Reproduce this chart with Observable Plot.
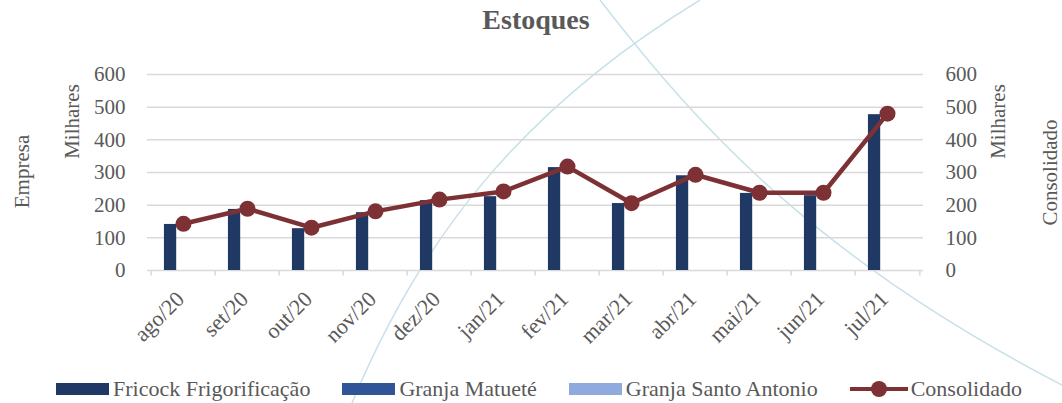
<!DOCTYPE html>
<html><head><meta charset="utf-8">
<script src="https://cdn.jsdelivr.net/npm/d3@7"></script>
<script src="https://cdn.jsdelivr.net/npm/@observablehq/plot@0.6"></script>
<style>
body{margin:0;background:#fff;font-family:"Liberation Serif","Times New Roman",serif;}
#wrap{position:relative;width:1062px;height:403px;overflow:hidden;}
#bg{position:absolute;left:0;top:0;}
#title{position:absolute;top:4px;left:0;width:1072px;text-align:center;font-weight:bold;font-size:28px;color:#595959;font-family:"Liberation Serif","Times New Roman",serif;}
#chart{position:absolute;left:0;top:50px;}
#legend{position:absolute;top:376px;left:0;width:1078px;display:flex;justify-content:center;align-items:center;font-size:22px;color:#595959;font-family:"Liberation Serif","Times New Roman",serif;}
.item{display:flex;align-items:center;margin-right:32px;}
.item:last-child{margin-right:0;}
.sw{width:53px;height:12px;margin-right:4px;}
.ln{position:relative;width:58px;height:16px;margin-right:3px;}
.ln:before{content:"";position:absolute;left:0;right:0;top:6px;height:4px;background:#7E3134;}
.ln:after{content:"";position:absolute;left:21px;top:0;width:16px;height:16px;border-radius:50%;background:#7E3134;}
#chart svg text{font-family:"Liberation Serif","Times New Roman",serif;}
</style></head>
<body>
<div id="wrap">
<svg id="bg" width="1062" height="403"><path d="M352,403 C420,240 520,110 700,0" fill="none" stroke="#c9e0ea" stroke-width="1.5"/><path d="M600,0 C700,130 820,260 1062,385" fill="none" stroke="#c9e0ea" stroke-width="1.5"/></svg>
<div id="title">Estoques</div>
<div id="chart"></div>
<div id="legend"></div>
</div>
<script>
const months = ["ago/20","set/20","out/20","nov/20","dez/20","jan/21","fev/21","mar/21","abr/21","mai/21","jun/21","jul/21"];
const fricock = [141,187,128,177,214,226,315,205,290,236,229,477];
const granjaMatuete = [0,0,0,0,0,0,0,0,0,0,0,0];
const granjaSantoAntonio = [0,0,0,0,0,0,0,0,0,0,0,0];
const consolidado = [143,189,131,181,217,242,318,206,293,238,238,480];
const yTicks = [0,100,200,300,400,500,600];
const seriesNames = ["Fricock Frigorificação","Granja Matueté","Granja Santo Antonio","Consolidado"];
const colors = ["#203864","#2F5597","#8FAADC","#7E3134"];

const data = months.map((m,i)=>({month:m,fricock:fricock[i],gm:granjaMatuete[i],gsa:granjaSantoAntonio[i],cons:consolidado[i]}));

const W=1062,H=320,ML=147,MR=139,MT=24,MB=100;
const bw=(W-ML-MR)/months.length;
const sub=bw*0.2;
const font={fontFamily:"Liberation Serif",fontSize:21,fill:"#595959",textAnchor:"middle"};

const chart = Plot.plot({
  width:W,height:H,marginLeft:ML,marginRight:MR,marginTop:MT,marginBottom:MB,
  style:{fontFamily:"Liberation Serif",fontSize:"21px",color:"#595959",background:"transparent",overflow:"visible"},
  x:{type:"band",domain:months,padding:0},
  y:{domain:[0,600]},
  marks:[
    Plot.ruleY(yTicks,{stroke:"#d9d9d9",strokeWidth:1.5}),
    Plot.ruleX(months,{x:d=>d,dx:-bw/2,y1:0,y2:-17,stroke:"#d9d9d9",strokeWidth:1.5}),
    Plot.ruleX([months[months.length-1]],{x:d=>d,dx:bw/2,y1:0,y2:-17,stroke:"#d9d9d9",strokeWidth:1.5}),
    Plot.barY(data,{x:"month",y:"fricock",fill:colors[0],insetLeft:sub,insetRight:bw-2*sub}),
    Plot.barY(data,{x:"month",y:"gm",fill:colors[1],insetLeft:2*sub,insetRight:bw-3*sub}),
    Plot.barY(data,{x:"month",y:"gsa",fill:colors[2],insetLeft:3*sub,insetRight:bw-4*sub}),
    Plot.line(data,{x:"month",y:"cons",stroke:colors[3],strokeWidth:4.5}),
    Plot.dot(data,{x:"month",y:"cons",fill:colors[3],r:8}),
    Plot.axisY({anchor:"left",ticks:yTicks,tickSize:0,tickPadding:22,label:null,fontSize:21}),
    Plot.axisY({anchor:"right",ticks:yTicks,tickSize:0,tickPadding:22,label:null,fontSize:21}),
    Plot.axisX({tickSize:0,tickPadding:25,tickRotate:-45,label:null,fontSize:22,dx:-3}),
    Plot.text(["Empresa"],{frameAnchor:"top-left",dx:14-ML,dy:121-MT,rotate:-90,...font,text:d=>d}),
    Plot.text(["Milhares"],{frameAnchor:"top-left",dx:64-ML,dy:71-MT,rotate:-90,...font,text:d=>d}),
    Plot.text(["Milhares"],{frameAnchor:"top-right",dx:990-(W-MR),dy:71-MT,rotate:-90,...font,text:d=>d}),
    Plot.text(["Consolidado"],{frameAnchor:"top-right",dx:1042-(W-MR),dy:122-MT,rotate:-90,...font,text:d=>d})
  ]
});
document.getElementById("chart").appendChild(chart);

const lg=document.getElementById("legend");
seriesNames.forEach((n,i)=>{
  const it=document.createElement("div");it.className="item";
  const s=document.createElement("div");
  if(i<3){s.className="sw";s.style.background=colors[i];}else{s.className="ln";}
  it.appendChild(s);
  const t=document.createElement("span");t.textContent=n;it.appendChild(t);
  lg.appendChild(it);
});
</script>
</body></html>
